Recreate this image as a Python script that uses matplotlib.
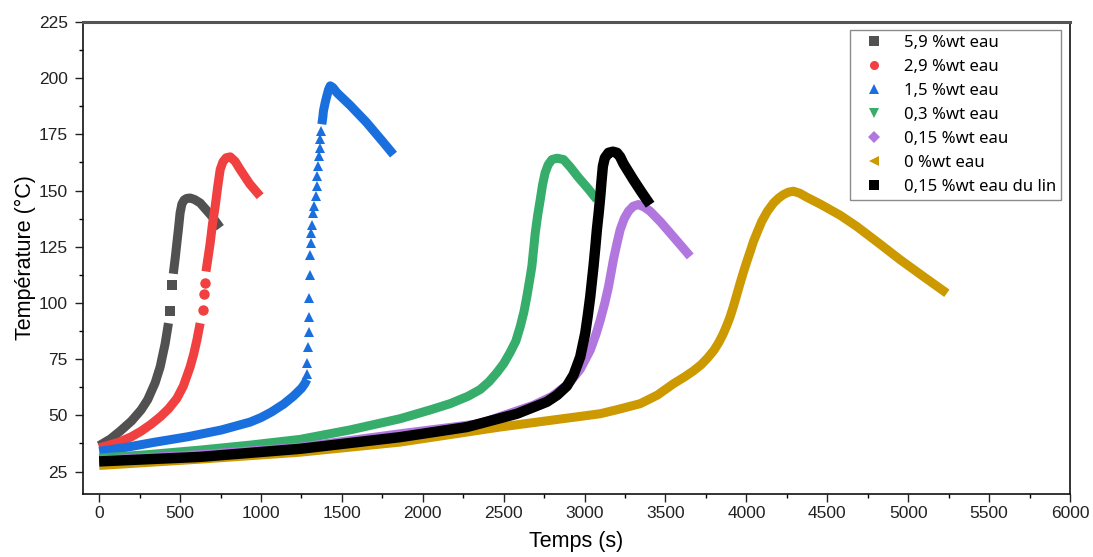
import matplotlib
matplotlib.use("Agg")
import matplotlib.pyplot as plt
from matplotlib.lines import Line2D
from matplotlib.ticker import MultipleLocator

plt.rcParams['font.family'] = ['Liberation Sans', 'DejaVu Sans']

# --- data (time in s, temperature in degC) ---
labels = ['5,9 %wt eau', '2,9 %wt eau', '1,5 %wt eau', '0,3 %wt eau',
          '0,15 %wt eau', '0 %wt eau', '0,15 %wt eau du lin']
colors = ['#515151', '#F14040', '#1A6FDF', '#37AD6B', '#B177DE', '#CC9900', '#000000']
markers = ['s', 'o', '^', 'v', 'D', '<', 's']

# 5,9 %wt
gray_t = [0, 70, 130, 200, 260, 300, 346, 377, 408, 428]
gray_T = [36.5, 39.5, 43, 47.5, 52.5, 57, 64.5, 71.6, 82, 91]
gray_jump_t = [440, 450]
gray_jump_T = [96.6, 108]
gray_top_t = [458, 470, 480, 490, 500, 511, 525, 540, 562, 590, 624, 697, 748]
gray_top_T = [113, 120, 126.6, 133, 140, 144, 145.8, 146.5, 146.7, 146, 144.5, 138.5, 133.5]

# 2,9 %wt
red_t = [0, 120, 200, 260, 320, 380, 430, 480, 520, 562, 585, 604, 624]
red_T = [35.5, 38, 40.5, 43, 46, 49.5, 53, 57.5, 63, 71.5, 77.5, 83.5, 91]
red_jump_t = [640, 645, 652]
red_jump_T = [97, 104, 109]
red_top_t = [660, 686, 700, 717, 733, 748, 765, 785, 810, 840, 871, 930, 995]
red_top_T = [114, 126.6, 135, 143, 152, 159.4, 162.8, 164.6, 165, 163, 159.4, 153, 147.5]

# 1,5 %wt
blue_t = [0, 170, 340, 550, 756, 933, 1000, 1065, 1140, 1200, 1250, 1270, 1284]
blue_T = [34, 35.8, 38, 40.5, 43.5, 47, 49, 51.5, 55, 58.5, 62, 64, 66]
blue_jump_t = [1284, 1287, 1292, 1294, 1296, 1298, 1304, 1304, 1308, 1310, 1314,
               1321, 1326, 1341, 1345, 1349, 1355, 1360, 1362, 1366, 1370]
blue_jump_T = [68.6, 73.1, 80.5, 87.2, 93.9, 102.1, 112.5, 121.4, 126.6, 131.1, 134.8,
               140, 143, 147.5, 151.9, 156.4, 160.8, 165.3, 169.1, 172.8, 176.5]
blue_top_t = [1376, 1382, 1386, 1397, 1407, 1418, 1428, 1445, 1470, 1550, 1650, 1750, 1819]
blue_top_T = [179.5, 182.5, 185.4, 189.2, 192.1, 195, 196.6, 195.8, 193.5, 188, 180.5, 172, 166]

# 0,3 %wt
green_t = [0, 300, 620, 940, 1242, 1550, 1860, 2050, 2169, 2280, 2355, 2410, 2458,
           2500, 2540, 2575, 2602, 2625, 2643, 2660, 2674, 2695, 2710, 2726, 2740,
           2756, 2775, 2798, 2830, 2870, 2911, 2960, 3020, 3076]
green_T = [31, 32.5, 34.5, 36.8, 39.3, 43.5, 48.5, 52.5, 55.2, 58.5, 61.5, 65, 69,
           73, 78, 83, 89.4, 96, 102.8, 110, 116.2, 131.1, 139, 146, 152.5,
           157.9, 161.5, 163.8, 164.4, 163.8, 160.5, 156, 151, 146]

# 0,15 %wt
purple_t = [0, 620, 1242, 1860, 2355, 2500, 2684, 2800, 2900, 2973, 3035, 3070, 3097,
            3125, 3148, 3165, 3178, 3200, 3220, 3245, 3271, 3300, 3333, 3370, 3405, 3470,
            3529, 3590, 3653]
purple_T = [30, 32.5, 35.8, 41.8, 46.3, 50, 54.5, 58.5, 64, 70.5, 79, 86, 92.4,
            100, 107.3, 114, 119.2, 126.5, 132.6, 137.5, 140.8, 143, 143.8, 142.6, 140.8,
            136, 131.1, 126, 120.7]

# 0 %wt
gold_t = [0, 620, 1242, 1860, 2478, 3096, 3200, 3344, 3450, 3550, 3620, 3673, 3720,
          3760, 3800, 3830, 3855, 3879, 3900, 3920, 3940, 3962, 3983, 4003, 4024, 4044,
          4070, 4095, 4130, 4168, 4200, 4229, 4260, 4291, 4330, 4374, 4456, 4580, 4683,
          4820, 4951, 5095, 5239]
gold_T = [27.7, 30.5, 33.6, 38.1, 44.8, 50.7, 52.5, 55.2, 59, 64.1, 67.2, 69.8, 72.5,
          75.5, 79, 82.5, 86, 90, 94, 98.5, 103.5, 109, 114, 118.5, 123, 127.4,
          132, 136.3, 140.8, 144.5, 146.7, 148.2, 149.3, 149.7, 148.8, 147, 144,
          139, 134, 126.5, 119.2, 111.7, 104.3]

# 0,15 %wt du lin
black_t = [0, 620, 1242, 1860, 2273, 2582, 2680, 2767, 2830, 2890, 2932, 2973, 3004,
           3020, 3035, 3055, 3066, 3076, 3087, 3097, 3105, 3113, 3125, 3148, 3175, 3200,
           3220, 3240, 3300, 3350, 3405]
black_T = [29.5, 31.5, 35.1, 40.3, 44.8, 50.7, 53.5, 56, 59, 63, 68, 76, 86.5,
           94.5, 102.8, 116.2, 124.5, 132.6, 140, 147.5, 154.5, 160.8, 164.5, 166.8,
           167.3, 166.8, 165, 162, 155, 149.5, 143.7]

fig = plt.figure(figsize=(10.93, 5.57), dpi=100)
ax = fig.add_axes([83 / 1093, 1 - 494 / 557, 987 / 1093, 472 / 557])

lw = 6.5
ms = 7.5


def band(t, T, i, width=lw):
    # dense runs of markers look like one thick stroke
    ax.plot(t, T, ls='-', lw=width, color=colors[i], solid_capstyle='butt',
            solid_joinstyle='round')


def dots(t, T, i):
    ax.plot(t, T, ls='none', color=colors[i], marker=markers[i], ms=ms, mew=0)


band(gray_t, gray_T, 0)
dots(gray_jump_t, gray_jump_T, 0)
band(gray_top_t, gray_top_T, 0)

band(red_t, red_T, 1)
dots(red_jump_t, red_jump_T, 1)
band(red_top_t, red_top_T, 1)

band(blue_t, blue_T, 2)
dots(blue_jump_t, blue_jump_T, 2)
band(blue_top_t, blue_top_T, 2)

band(green_t, green_T, 3)
band(purple_t, purple_T, 4)
band(gold_t, gold_T, 5)
band(black_t, black_T, 6, width=7.5)

ax.set_xlim(-100, 6000)
ax.set_ylim(15, 225)
ax.xaxis.set_major_locator(MultipleLocator(500))
ax.xaxis.set_minor_locator(MultipleLocator(250))
ax.yaxis.set_minor_locator(MultipleLocator(12.5))
ax.set_yticks([25, 50, 75, 100, 125, 150, 175, 200, 225])

ax.tick_params(which='major', direction='out', length=6, width=1, labelsize=12.5,
               colors='#222222')
ax.tick_params(which='minor', direction='out', length=3, width=1)
ax.tick_params(axis='x', pad=3)
ax.tick_params(axis='y', pad=5)

for s in ['left', 'bottom', 'right']:
    ax.spines[s].set_linewidth(1.2)
    ax.spines[s].set_color('#111111')
ax.spines['top'].set_linewidth(2.2)
ax.spines['top'].set_color('#555555')

ax.set_xlabel('Temps (s)', fontsize=15.5, labelpad=7)
ax.set_ylabel('Température (°C)', fontsize=15.5, labelpad=2)

handles = [Line2D([], [], ls='none', marker=markers[i], color=colors[i], ms=6.5, mew=0)
           for i in range(len(labels))]
leg = ax.legend(handles, labels, loc='upper right',
                bbox_to_anchor=(1061 / 1093, 1 - 30 / 557), bbox_transform=fig.transFigure,
                borderaxespad=0, fancybox=False, frameon=True, framealpha=1,
                edgecolor='#8c8c8c', handlelength=2.3, handletextpad=0.63,
                labelspacing=0.48, borderpad=0.3,
                prop={'family': ['Noto Sans', 'DejaVu Sans'], 'size': 12})
leg.get_frame().set_linewidth(1.0)

fig.savefig('out.png', dpi=100)
